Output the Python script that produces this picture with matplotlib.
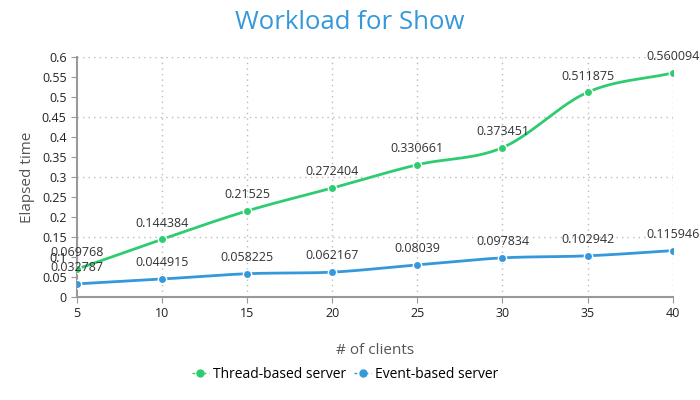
import numpy as np
import matplotlib.pyplot as plt

plt.rcParams['font.family'] = ['Open Sans', 'DejaVu Sans']

clients = [5, 10, 15, 20, 25, 30, 35, 40]
thread_times = [0.069768, 0.144384, 0.21525, 0.272404, 0.330661, 0.373451, 0.511875, 0.560094]
event_times = [0.032787, 0.044915, 0.058225, 0.062167, 0.08039, 0.097834, 0.102942, 0.115946]

green = '#2ecc71'
blue = '#3498db'


def smooth(x, y, n=30):
    # catmull-rom style curve through the points, only for drawing the line
    x = np.asarray(x, float)
    y = np.asarray(y, float)
    m = np.zeros_like(y)
    m[1:-1] = (y[2:] - y[:-2]) / (x[2:] - x[:-2])
    m[0] = (y[1] - y[0]) / (x[1] - x[0])
    m[-1] = (y[-1] - y[-2]) / (x[-1] - x[-2])
    xs, ys = [], []
    for i in range(len(x) - 1):
        h = x[i + 1] - x[i]
        t = np.linspace(0, 1, n)
        h00 = 2 * t**3 - 3 * t**2 + 1
        h10 = t**3 - 2 * t**2 + t
        h01 = -2 * t**3 + 3 * t**2
        h11 = t**3 - t**2
        xs.append(x[i] + t * h)
        ys.append(h00 * y[i] + h10 * h * m[i] + h01 * y[i + 1] + h11 * h * m[i + 1])
    return np.concatenate(xs), np.concatenate(ys)


fig = plt.figure(figsize=(7, 4), dpi=100)
ax = fig.add_axes([0.11, 0.2575, 0.851, 0.6])

for vals, col, name in [(thread_times, green, 'Thread-based server'),
                        (event_times, blue, 'Event-based server')]:
    sx, sy = smooth(clients, vals)
    ax.plot(sx, sy, color=col, lw=2, zorder=3)
    ax.plot(clients, vals, 'o', color=col, ms=6, mec='white', mew=1, zorder=4)
    ax.plot([], [], color=col, lw=1, ls=(0, (2, 2)), marker='o', ms=5, label=name)
    for cx, v in zip(clients, vals):
        ax.annotate(f'{v:g}', (cx, v), xytext=(0, 7), textcoords='offset points',
                    ha='center', va='bottom', fontsize=9, color='#333333', zorder=5)

ax.set_xlim(5, 40)
ax.set_ylim(0, 0.6)
ax.set_xticks(clients)
ax.set_yticks(np.arange(0, 0.601, 0.05))
ax.set_yticklabels([f'{v:g}' for v in np.round(np.arange(0, 0.601, 0.05), 2)])
ax.tick_params(labelsize=9, length=4, color='#999999')
for t in ax.get_xticklabels() + ax.get_yticklabels():
    t.set_color('#222222')

for s in ['top', 'right']:
    ax.spines[s].set_visible(False)
for s in ['left', 'bottom']:
    ax.spines[s].set_color('#999999')
    ax.spines[s].set_linewidth(1.5)

for yv in [0.15, 0.3, 0.45, 0.6]:
    ax.axhline(yv, color='#bbbbbb', ls=(0, (1, 3)), lw=1, zorder=1)
for xv in clients[1:]:
    ax.axvline(xv, color='#bbbbbb', ls=(0, (1, 3)), lw=1, zorder=1)

ax.set_xlabel('# of clients', fontsize=11, color='#555555', labelpad=16)
ax.set_ylabel('Elapsed time', fontsize=11, color='#555555', labelpad=5)
fig.suptitle('Workload for Show', fontsize=18.5, color='#3498db', y=0.975)

fig.legend(*ax.get_legend_handles_labels(), loc='center', bbox_to_anchor=(0.493, 0.065),
           ncol=2, frameon=False, fontsize=10, handlelength=1.2, handletextpad=0.3,
           columnspacing=0.6)

fig.savefig('out.png', dpi=100)
